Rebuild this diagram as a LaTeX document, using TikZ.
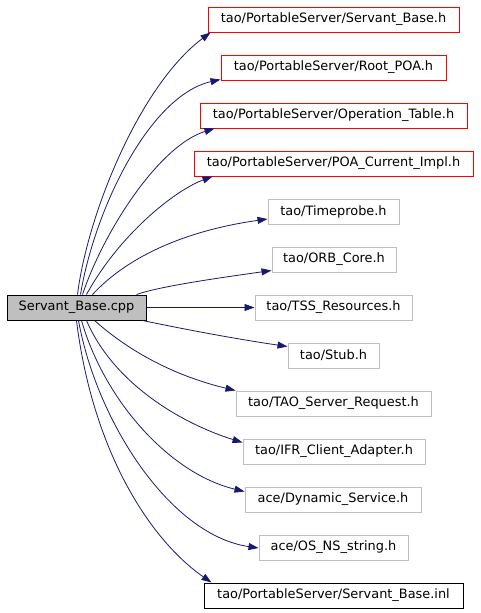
\documentclass[tikz,border=0pt]{standalone}
\usepackage{fontspec}
\setmainfont{DejaVu Sans}
\usetikzlibrary{arrows.meta}
\definecolor{edgeblue}{HTML}{191970}
\definecolor{boxgrey}{HTML}{BFBFBF}
\definecolor{boxred}{HTML}{FF0000}
\tikzset{
  box/.style={draw, line width=1pt, minimum height=25pt, inner sep=0pt, font=\fontsize{12.9}{14}\selectfont},
  redbox/.style={box, draw=boxred},
  greybox/.style={box, draw=boxgrey},
  blackbox/.style={box, draw=black},
  rootbox/.style={box, draw=black, fill=boxgrey},
  dep/.style={draw=edgeblue, line width=0.8pt, -{Triangle[length=10pt,width=7pt]}, fill=none},
}
\begin{document}
\begin{tikzpicture}[x=1pt,y=-1pt]
\useasboundingbox (0,0) rectangle (480,613);
\node[rootbox, minimum width=139pt] (root) at (76.5,307.5) {Servant\_Base.cpp};
\node[redbox, minimum width=251pt] (n1) at (333.5,19.5) {tao/PortableServer/Servant\_Base.h};
\node[redbox, minimum width=225pt] (n2) at (333.5,67.5) {tao/PortableServer/Root\_POA.h};
\node[redbox, minimum width=267pt] (n3) at (333.5,115.5) {tao/PortableServer/Operation\_Table.h};
\node[redbox, minimum width=279pt] (n4) at (333.5,163.5) {tao/PortableServer/POA\_Current\_Impl.h};
\node[greybox, minimum width=131pt] (n5) at (333.5,211.5) {tao/Timeprobe.h};
\node[greybox, minimum width=124pt] (n6) at (334,259.5) {tao/ORB\_Core.h};
\node[greybox, minimum width=157pt] (n7) at (333.5,307.5) {tao/TSS\_Resources.h};
\node[greybox, minimum width=91pt] (n8) at (333.5,355.5) {tao/Stub.h};
\node[greybox, minimum width=195pt] (n9) at (333.5,403.5) {tao/TAO\_Server\_Request.h};
\node[greybox, minimum width=182pt] (n10) at (334,451.5) {tao/IFR\_Client\_Adapter.h};
\node[greybox, minimum width=176pt] (n11) at (333,499.5) {ace/Dynamic\_Service.h};
\node[greybox, minimum width=149pt] (n12) at (333.5,547.5) {ace/OS\_NS\_string.h};
\node[blackbox, minimum width=259pt] (n13) at (333.5,595.5) {tao/PortableServer/Servant\_Base.inl};

\draw[dep] ([xshift=71pt]root.north west) .. controls +(10,-80) and +(-71,53) .. ([xshift=3pt]n1.south west);
\draw[dep] ([xshift=74pt]root.north west) .. controls +(14,-85) and +(-71,16) .. ([yshift=1pt]n2.south west);
\draw[dep] ([xshift=76pt]root.north west) .. controls +(22,-65) and +(-55,17) .. ([xshift=15pt]n3.south west);
\draw[dep] ([xshift=80pt]root.north west) .. controls +(33,-60) and +(-38,14) .. ([xshift=19pt]n4.south west);
\draw[dep] ([xshift=86pt]root.north west) .. controls +(37,-40) and +(-78,11) .. ([yshift=-7.5pt]n5.west);
\draw[dep] ([xshift=130pt]root.north west) .. controls +(23,-8) and +(-57,8) .. ([yshift=2pt]n6.south west);
\draw[dep] (root.east) -- (n7.west);
\draw[dep] ([xshift=-4pt]root.south east) .. controls +(48,10) and +(-48,-7) .. ([yshift=-4pt]n8.north west);
\draw[dep] ([xshift=88pt]root.south west) .. controls +(45,40) and +(-46,-11) .. (n9.north west);
\draw[dep] ([xshift=80pt]root.south west) .. controls +(28,65) and +(-58,-18) .. ([yshift=-4pt]n10.north west);
\draw[dep] ([xshift=75pt]root.south west) .. controls +(23,80) and +(-75,-18) .. ([yshift=-5pt]n11.north west);
\draw[dep] ([xshift=72pt]root.south west) .. controls +(18,100) and +(-89,-13) .. ([yshift=-0.5pt]n12.west);
\draw[dep] ([xshift=70pt]root.south west) .. controls +(16,130) and +(-62,-43) .. ([xshift=8pt]n13.north west);
\end{tikzpicture}
\end{document}
